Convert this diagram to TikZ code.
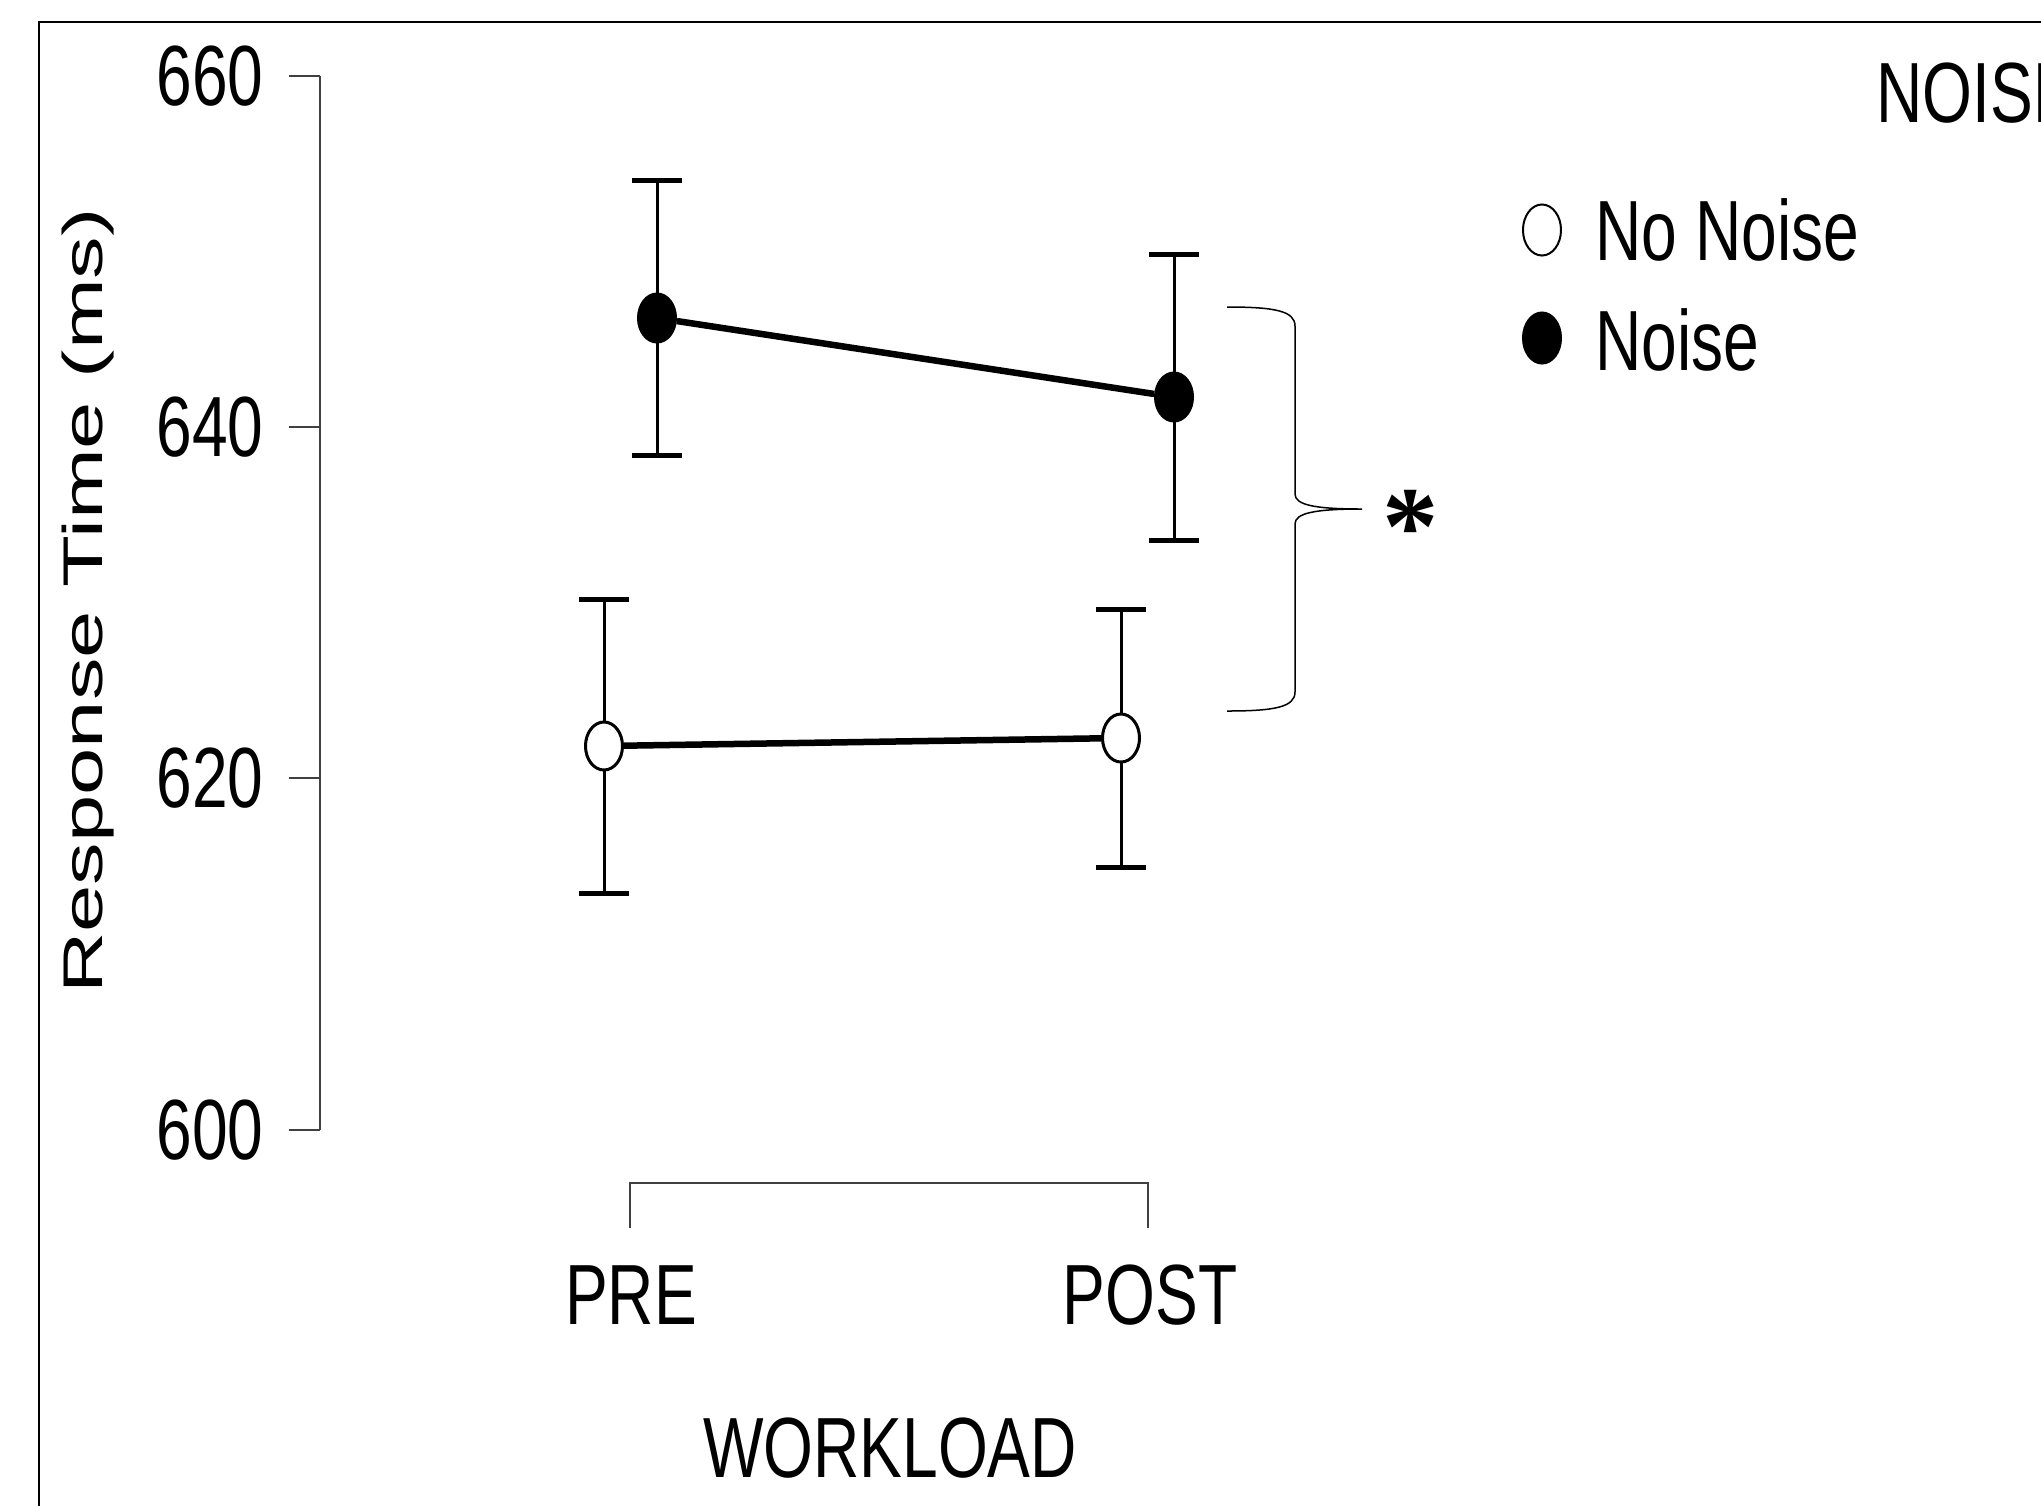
\documentclass[tikz,border=0pt]{standalone}
\usepackage{fontspec}
\setmainfont{Liberation Sans}
\newfontfamily\plotfont[FakeStretch=0.75]{Liberation Sans}
\newfontfamily\ylabfont[FakeStretch=1.52]{Liberation Sans}
\newfontfamily\starfont{Liberation Serif}
\usetikzlibrary{shapes.geometric}

\tikzset{
    axisline/.style={draw=black!75,line width=0.02cm},
    ticklab/.style={anchor=east,inner sep=0pt,font=\plotfont\fontsize{24.3}{29}\selectfont},
    catlab/.style={anchor=base,inner sep=0pt,font=\plotfont\fontsize{24.3}{29}\selectfont},
    leglab/.style={anchor=base west,inner sep=0pt,font=\plotfont\fontsize{24.3}{29}\selectfont},
    ylab/.style={anchor=base,inner sep=0pt,rotate=90,font=\ylabfont\fontsize{15.9}{19}\selectfont},
    starlab/.style={anchor=base,inner sep=0pt,font=\starfont\bfseries\fontsize{32}{36}\selectfont},
    errbar/.style={line width=0.03cm},
    errcap/.style={line width=0.05cm},
    meanline/.style={line width=0.065cm},
    dotopen/.style={ellipse,draw,fill=white,line width=0.03cm,inner sep=0pt,minimum width=0.37cm,minimum height=0.48cm},
    dotfilled/.style={dotopen,fill=black},
    legdot/.style={line width=0.02cm,minimum width=0.38cm,minimum height=0.51cm},
    bracestyle/.style={line width=0.015cm}
}

\begin{document}
\begin{tikzpicture}
        [x=0.01cm,y=-0.01cm]
        \clip (0,0) rectangle (2041,1505);
        % frame
        \draw[line width=0.02cm] (39,1520) -- (39,22) -- (2060,22);

        % y axis
        \coordinate (ytop) at (320,76);
        \coordinate (ybot) at (320,1130);
        \draw[axisline] (ytop) -- (ybot);
        \foreach \v/\y in {660/76,640/427,620/778,600/1130} {
            \draw[axisline] (320,\y) -- (289,\y);
            \node[ticklab] (tick\v) at (264,\y) {\v};
        }
        \node[ylab] (ylabel) at (102,601) {Response Time (ms)};

        % x axis
        \coordinate (xpre) at (630,1183);
        \coordinate (xpost) at (1148,1183);
        \draw[axisline] (xpre) ++(0,45) -- (xpre) -- (xpost) -- ++(0,45);
        \node[catlab] (pre) at (631,1324) {PRE};
        \node[catlab] (post) at (1150,1324) {POST};
        \node[catlab] (workload) at (890,1477) {WORKLOAD};

        % error bars
        \foreach \n/\x/\hi/\lo in {npre/657/180/455,npost/1174/254/540,qpre/604/599/893,qpost/1121/609/867} {
            \coordinate (\n-hi) at (\x,\hi);
            \coordinate (\n-lo) at (\x,\lo);
            \draw[errbar] (\n-hi) -- (\n-lo);
            \draw[errcap] (\n-hi) ++(-25,0) -- ++(50,0);
            \draw[errcap] (\n-lo) ++(-25,0) -- ++(50,0);
        }

        % means
        \node[dotopen] (qpre) at (604,746) {};
        \node[dotopen] (qpost) at (1121,738) {};
        \node[dotfilled] (npre) at (657,318) {};
        \node[dotfilled] (npost) at (1174,397) {};
        \draw[meanline] (qpre) -- (qpost);
        \draw[meanline] (npre) -- (npost);

        % brace and star
        \coordinate (brtip) at (1362,509);
        \draw[bracestyle] (1227,307) .. controls (1275,307) and (1295,311) .. (1295,326) -- (1295,494)
            .. controls (1295,505) and (1315,509) .. (brtip)
            .. controls (1315,509) and (1295,513) .. (1295,524) -- (1295,692)
            .. controls (1295,707) and (1275,711) .. (1227,711);
        \node[starlab] (star) at (1411,564) {*};

        % legend
        \node[leglab] (legtitle) at (1876,122) {NOISE};
        \node[dotopen,legdot] (kopen) at (1542,230) {};
        \node[leglab] (kopenlab) at (1595,260) {No Noise};
        \node[dotfilled,legdot] (kfill) at (1542,338) {};
        \node[leglab] (kfilllab) at (1595,370) {Noise};
    \end{tikzpicture}
\end{document}
